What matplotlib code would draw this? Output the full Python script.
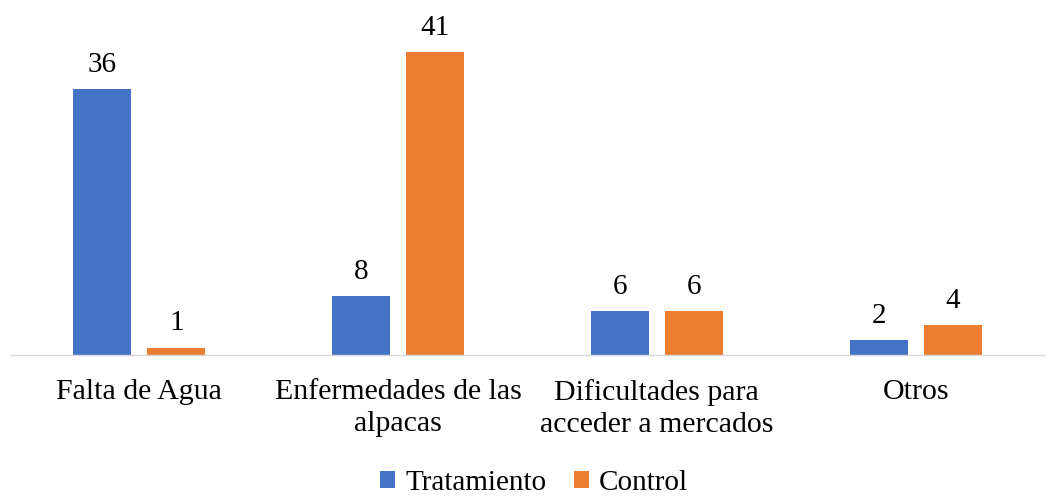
import matplotlib
matplotlib.use("Agg")
import matplotlib.pyplot as plt
import numpy as np

categories = ["Falta de Agua", "Enfermedades de las\nalpacas", "Dificultades para\nacceder a mercados", "Otros"]
tratamiento = [36, 8, 6, 2]
control = [1, 41, 6, 4]
series_names = ["Tratamiento", "Control"]

plt.rcParams['font.family'] = ['Liberation Serif', 'DejaVu Serif']

fig = plt.figure(figsize=(10.48, 4.96), dpi=100)
ax = fig.add_axes([0.0095, 0.2843, 0.9876, 0.6855])

x = np.arange(len(categories))
w = 0.224
off = 0.143
b1 = ax.bar(x - off, tratamiento, w, color="#4472C4", label=series_names[0])
b2 = ax.bar(x + off, control, w, color="#ED7D31", label=series_names[1])

for bars in (b1, b2):
    for r in bars:
        ax.annotate(f"{int(r.get_height())}", (r.get_x() + r.get_width() / 2, r.get_height()),
                    xytext=(0, 8), textcoords="offset points", ha="center", va="bottom",
                    fontsize=21, color="#000000")

ax.set_xlim(-0.5, len(categories) - 0.5)
ax.set_ylim(0, 46)
ax.set_xticks(x)
ax.set_xticklabels(categories, fontsize=21.5, linespacing=1.32)
ax.tick_params(axis="x", length=0, pad=17)
ax.set_yticks([])
for s in ["top", "right", "left"]:
    ax.spines[s].set_visible(False)
ax.spines["bottom"].set_color("#D9D9D9")
ax.spines["bottom"].set_linewidth(1)

fig.legend(handles=[b1, b2], labels=series_names, loc="center",
           bbox_to_anchor=(0.5 + 10 / 1048, 1 - 483 / 496),
           ncol=2, frameon=False, fontsize=21, handlelength=0.52, handleheight=0.52,
           handletextpad=0.33, columnspacing=0.95, borderpad=0, borderaxespad=0)

fig.savefig("out.png", dpi=100)
